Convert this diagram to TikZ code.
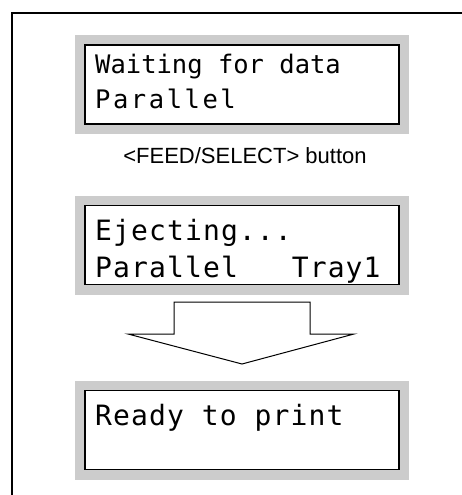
\documentclass[tikz,border=0pt]{standalone}
\usepackage{fontspec}
\setmainfont{Liberation Sans}
\newfontfamily\lcdfont{DejaVu Sans Mono}
\definecolor{lcdgray}{HTML}{CCCCCC}
\begin{document}
\begin{tikzpicture}[x=1pt,y=-1pt,
  lcd/.style={draw=black, line width=1.3pt, fill=white, minimum width=314pt,
    minimum height=79pt, inner sep=0pt, outer sep=0pt,
    preaction={draw=lcdgray, line width=20pt}},
  lcdsmall/.style={anchor=base west, inner sep=0pt, font=\lcdfont\fontsize{25.5}{25.5}\selectfont},
  lcdbig/.style={anchor=base west, inner sep=0pt, font=\lcdfont\fontsize{28}{28}\selectfont},
  frame/.style={line width=2pt},
  blockarrow/.style={draw=black, line width=1pt, line join=miter}]
\useasboundingbox (0,0) rectangle (462,495);
% frame (top and left edges visible)
\coordinate (fr) at (462,13);
\coordinate (fc) at (12,13);
\coordinate (fb) at (12,495);
\draw[frame] (fr) -- (fc) -- (fb);
% LCD boxes
\node[lcd] (lcd1) at (242,84.5) {};
\node[lcd] (lcd2) at (242,245) {};
\node[lcd] (lcd3) at (242,430) {};
% texts
\node[lcdsmall] (l1a) at (95,74) {Waiting for data};
\node[lcdsmall] (l1b) at (95,108) {\addfontfeature{LetterSpace=10}Parallel};
\node[lcdbig] (l2a) at (95,240) {\addfontfeature{LetterSpace=4}Ejecting...};
\node[lcdbig] (l2b) at (95,277) {\addfontfeature{LetterSpace=4}Parallel\ \ \ Tray1};
\node[lcdbig] (l3a) at (95,425) {\addfontfeature{LetterSpace=4}Ready to print};
% label
\node[anchor=base, inner sep=0pt, font=\fontsize{22}{22}\selectfont] (btn) at (245,163) {<FEED/SELECT> button};
% block arrow
\coordinate (a1) at (174,302);
\coordinate (a2) at (310,302);
\coordinate (a3) at (310,334);
\coordinate (a4) at (354,334);
\coordinate (a5) at (242,364);
\coordinate (a6) at (128,334);
\coordinate (a7) at (174,334);
\draw[blockarrow] (a1) -- (a2) -- (a3) -- (a4) -- (a5) -- (a6) -- (a7) -- cycle;
\end{tikzpicture}
\end{document}
